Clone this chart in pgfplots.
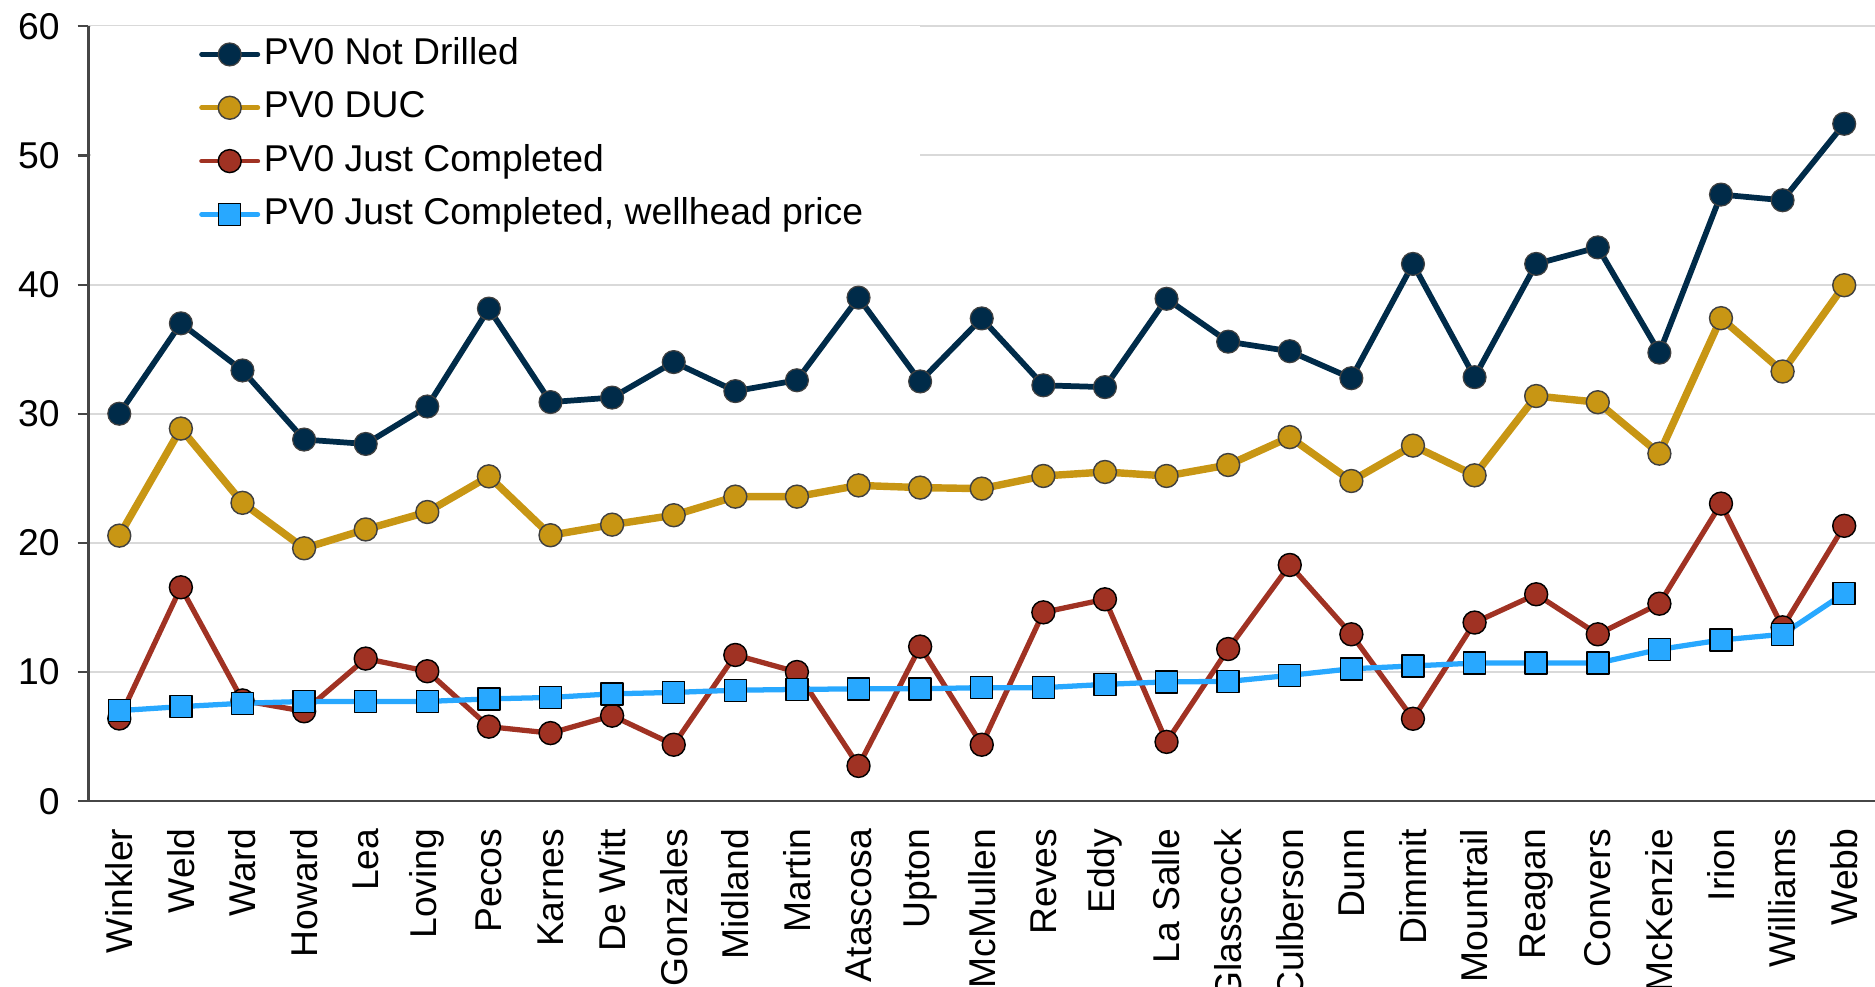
\documentclass[border=0pt]{standalone}
\usepackage{fontspec}
\setmainfont{Liberation Sans}
\usepackage{pgfplots}
\usepackage{pgfplotstable}
\pgfplotsset{compat=1.18}

\definecolor{navy}{RGB}{0,43,73}
\definecolor{gold}{RGB}{200,150,20}
\definecolor{brick}{RGB}{160,50,35}
\definecolor{sky}{RGB}{40,168,255}
\definecolor{gridgray}{RGB}{217,217,217}
\definecolor{axisgray}{RGB}{70,70,70}

% idx  not-drilled  DUC  just-completed  wellhead
\pgfplotstableread{
x  nd     duc    jc     wh
0  30.00  20.56  6.40   7.01
1  37.00  28.85  16.56  7.32
2  33.35  23.10  7.80   7.58
3  28.00  19.58  6.96   7.72
4  27.66  21.04  11.04  7.72
5  30.56  22.39  10.06  7.72
6  38.14  25.15  5.77   7.92
7  30.90  20.59  5.27   8.03
8  31.25  21.41  6.62   8.31
9  34.00  22.14  4.37   8.42
10 31.75  23.58  11.32  8.59
11 32.59  23.58  10.00  8.65
12 38.99  24.45  2.73   8.70
13 32.50  24.28  11.97  8.70
14 37.38  24.20  4.37   8.79
15 32.20  25.18  14.62  8.79
16 32.06  25.49  15.63  9.04
17 38.90  25.18  4.59   9.24
18 35.58  26.03  11.78  9.27
19 34.84  28.19  18.29  9.74
20 32.75  24.79  12.92  10.25
21 41.60  27.53  6.38   10.47
22 32.83  25.23  13.83  10.69
23 41.60  31.37  16.02  10.69
24 42.88  30.89  12.92  10.69
25 34.73  26.91  15.29  11.75
26 46.97  37.40  23.04  12.48
27 46.53  33.27  13.46  12.92
28 52.45  39.95  21.32  16.09
}\pvdata

\begin{document}
\begin{tikzpicture}
\begin{axis}[
  scale only axis,
  width=747pt, height=324pt,
  xmin=-0.5, xmax=28.5,
  ymin=0, ymax=60,
  ytick={0,10,...,60},
  xtick={0,...,28},
  xticklabels={Winkler,Weld,Ward,Howard,Lea,Loving,Pecos,Karnes,De Witt,Gonzales,Midland,Martin,Atascosa,Upton,McMullen,Reves,Eddy,La Salle,Glasscock,Culberson,Dunn,Dimmit,Mountrail,Reagan,Convers,McKenzie,Irion,Williams,Webb},
  minor xtick={-0.5,0.5,...,28.5},
  axis x line*=bottom,
  axis y line*=left,
  axis line style={axisgray, line width=0.9pt},
  tick align=outside,
  x tick style={draw=none},
  minor x tick style={axisgray, line width=0.9pt},
  minor tick length=4.8pt,
  y tick style={axisgray, line width=0.9pt},
  major tick length=4.5pt,
  ymajorgrids,
  grid style={gridgray, line width=0.8pt},
  tick label style={font=\fontsize{15.6}{18}\selectfont},
  /pgf/number format/assume math mode=true,
  xticklabel style={rotate=90, anchor=east, xshift=-3.5pt},
  yticklabel style={xshift=-4pt},
  clip=false,
  legend cell align=left,
  legend style={
    at={(axis cs:1.29,59.2)}, anchor=north west,
    draw=none, fill=none, inner sep=0pt,
    font=\fontsize{15.6}{18}\selectfont,
    row sep=7.8pt,
    nodes={inner sep=0pt, text height=11.5pt, text depth=3pt},
    /tikz/every odd column/.append style={column sep=1.5pt},
  },
  legend image code/.code={
    \draw[mark repeat=2, mark phase=2, line width=2pt, line cap=round]
      plot coordinates {(0pt,0pt) (11.75pt,0pt) (23.5pt,0pt)};
  },
  every axis plot/.append style={line join=round},
]
% white panel behind the legend
\fill[white] ([xshift=1pt]rel axis cs:0,1) rectangle (axis cs:13.0,44);

\addplot[navy, line width=2.4pt, mark=*, mark size=4.8pt,
  mark options={fill=navy, draw=black!75, line width=0.5pt}]
  table[x=x, y=nd] {\pvdata};
\addlegendentry{PV0 Not Drilled}

\addplot[gold, line width=3.1pt, mark=*, mark size=4.8pt,
  mark options={fill=gold, draw=black!75, line width=0.6pt}]
  table[x=x, y=duc] {\pvdata};
\addlegendentry{PV0 DUC}

\addplot[brick, line width=2.2pt, mark=*, mark size=4.8pt,
  mark options={fill=brick, draw=black, line width=0.6pt}]
  table[x=x, y=jc] {\pvdata};
\addlegendentry{PV0 Just Completed}

\addplot[sky, line width=2.2pt, mark=square*, mark size=4.6pt,
  mark options={fill=sky, draw=black, line width=0.6pt}]
  table[x=x, y=wh] {\pvdata};
\addlegendentry{PV0 Just Completed, wellhead price}

\coordinate (bbSW) at (rel axis cs:0,0);
\coordinate (bbNE) at (rel axis cs:1,1);
\end{axis}
\pgfresetboundingbox
\useasboundingbox ([xshift=-37pt,yshift=-77.5pt]bbSW) rectangle ([yshift=11pt]bbNE);
\end{tikzpicture}
\end{document}
